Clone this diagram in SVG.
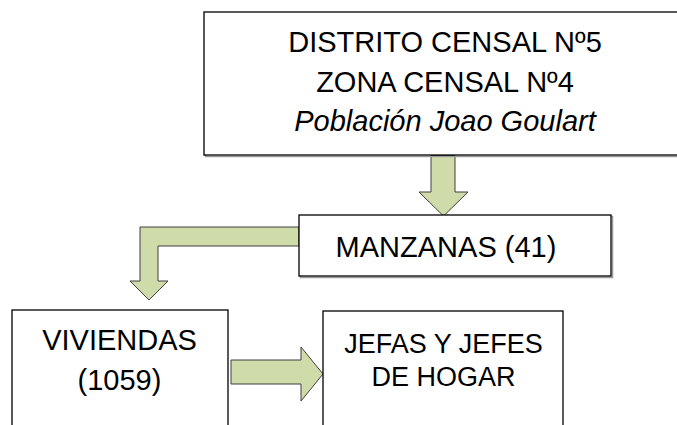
<svg xmlns="http://www.w3.org/2000/svg" width="677" height="425" viewBox="0 0 677 425">
<style>
.box{fill:#ffffff;stroke:#000000;stroke-width:1.3}
.shadow{fill:none;stroke:#9a9a9a;stroke-width:1.5}
.arrow{fill:#cfdcaa;stroke:#3f3f3f;stroke-width:1;stroke-linejoin:miter}
.t{font-family:"Liberation Sans",Arial,sans-serif;fill:#000000;text-anchor:middle}
</style>
<rect x="0" y="0" width="677" height="425" fill="#ffffff"/>
<g id="connectors">
<polygon class="arrow" points="431,155.5 455,155.5 455,192 468,192 443.5,216 419,192 431,192"/>
<polygon class="arrow" points="299,227 140,227 140,281 130,281 149,300 168,281 158,281 158,246 299,246"/>
<polygon class="arrow" points="231,360 301,360 301,347 323,374 301,401 301,384 231,384"/>
</g>
<g id="node-distrito">
<rect class="shadow" x="205.5" y="13.5" width="520" height="143"/>
<rect class="box" x="204" y="12" width="520" height="143"/>
<text class="t" x="445" y="52" font-size="29">DISTRITO CENSAL Nº5</text>
<text class="t" x="445" y="92" font-size="29">ZONA CENSAL Nº4</text>
<text class="t" x="445" y="131" font-size="29" font-style="italic">Población Joao Goulart</text>
</g>
<g id="node-manzanas">
<rect class="shadow" x="300.5" y="216.5" width="312" height="61"/>
<rect class="box" x="299" y="215" width="312" height="61"/>
<text class="t" x="446" y="257" font-size="29">MANZANAS (41)</text>
</g>
<g id="node-viviendas">
<rect class="box" x="12" y="310" width="216" height="130"/>
<text class="t" x="119.5" y="350" font-size="29">VIVIENDAS</text>
<text class="t" x="119.5" y="390" font-size="29">(1059)</text>
</g>
<g id="node-jefes">
<rect class="box" x="323" y="311" width="240" height="130"/>
<text class="t" x="443.5" y="353" font-size="27">JEFAS Y JEFES</text>
<text class="t" x="443.5" y="386" font-size="27">DE HOGAR</text>
</g>
</svg>
